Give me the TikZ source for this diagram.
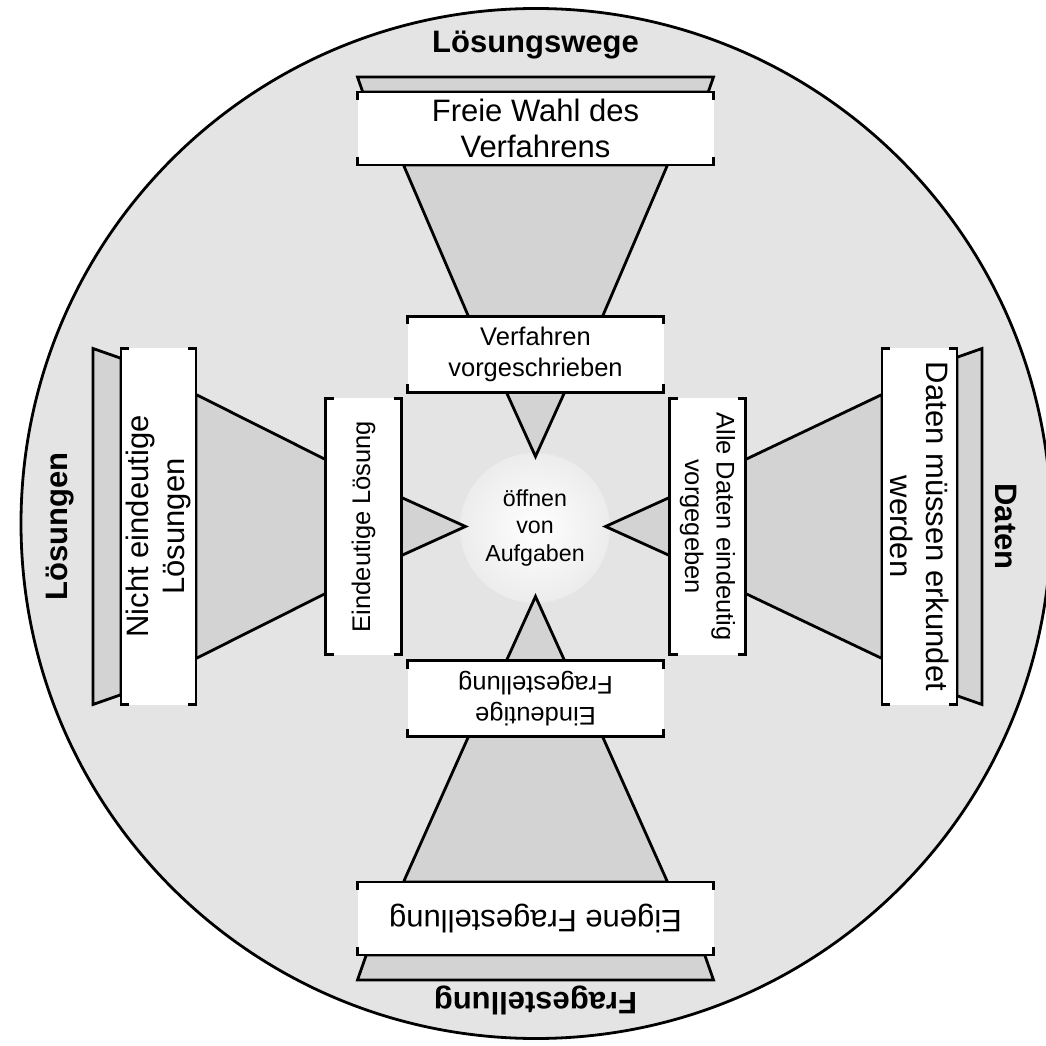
\documentclass[tikz,border=0pt]{standalone}
\usepackage{fontspec}
\setmainfont{Liberation Sans}
\definecolor{bggray}{RGB}{228,228,228}
\definecolor{trgray}{RGB}{211,211,211}
\definecolor{ballout}{RGB}{236,236,236}
\tikzset{
  ln/.style={line width=2.8pt, line join=miter},
  shapefill/.style={ln, fill=trgray, draw=black},
  outtext/.style={font=\fontsize{31}{36}\selectfont, align=center, inner sep=0pt, transform shape},
  intext/.style={font=\fontsize{25.5}{31.5}\selectfont, align=center, inner sep=0pt, transform shape},
  lbltext/.style={font=\fontsize{31}{36}\selectfont\bfseries, anchor=base, inner sep=0pt, transform shape},
  balltext/.style={font=\fontsize{23.2}{27.5}\selectfont, align=center, inner sep=0pt},
}
% #1 angle, #2 box inner edge, #3 box outer edge, #4 trapezoid outer edge,
% #5 label baseline, #6 outer text, #7 inner text, #8 label, #9 name prefix
\newcommand\myarm[9]{%
  \begin{scope}[shift={(535.5,518.5)}, rotate=#1]
    \draw[shapefill] (-178,#4) -- (178,#4) -- ({178-0.35*(#4-#3)},#3) -- ({-178+0.35*(#4-#3)},#3) -- cycle;
    \draw[shapefill] (-132,#2) -- (132,#2) -- (67,210) -- (-67,210) -- cycle;
    \draw[shapefill] (-29,134) -- (0,70) -- (29,134) -- cycle;
    \fill[white] (-178,#2) rectangle (178,#3);
    \draw[ln] (-178,{#2+8}) -- (-178,#2) -- (178,#2) -- (178,{#2+8});
    \draw[ln] (-178,{#3-8}) -- (-178,#3) -- (178,#3) -- (178,{#3-8});
    \fill[white] (-128,134) rectangle (128,210);
    \draw[ln] (-128,142) -- (-128,134) -- (128,134) -- (128,142);
    \draw[ln] (-128,202) -- (-128,210) -- (128,210) -- (128,202);
    \node[outtext] (#9o) at (0,{(#2+#3)/2}) {#6};
    \node[intext] (#9i) at (0,172) {#7};
    \node[lbltext] (#9l) at (0,#5) {#8};
  \end{scope}}
\begin{document}
\begin{tikzpicture}[x=1pt,y=1pt]
  \useasboundingbox (0,0) rectangle (1046,1045);
  \clip (0,0) rectangle (1046,1045);
  \fill[white] (0,0) rectangle (1046,1045);
  \draw[ln, fill=bggray] (536,521.5) circle (515);
  \shade[inner color=white, outer color=ballout] (535,517) circle (75);
  \node[balltext] (ball) at (535,517) {öffnen\\von\\Aufgaben};
  \myarm{0}{361.5}{434.5}{449.5}{473.5}{Freie Wahl des\\Verfahrens}{Verfahren\\vorgeschrieben}{Lösungswege}{top}
  \myarm{90}{339.5}{414.5}{442.5}{468.5}{Nicht eindeutige\\Lösungen}{Eindeutige Lösung}{Lösungen}{left}
  \myarm{-90}{346.5}{421.5}{446.5}{459.5}{Daten müssen erkundet\\werden}{Alle Daten eindeutig\\vorgegeben}{Daten}{right}
  \myarm{180}{355.5}{428.5}{453.5}{465.5}{Eigene Fragestellung}{Eindeutige\\Fragestellung}{Fragestellung}{bottom}
\end{tikzpicture}
\end{document}
